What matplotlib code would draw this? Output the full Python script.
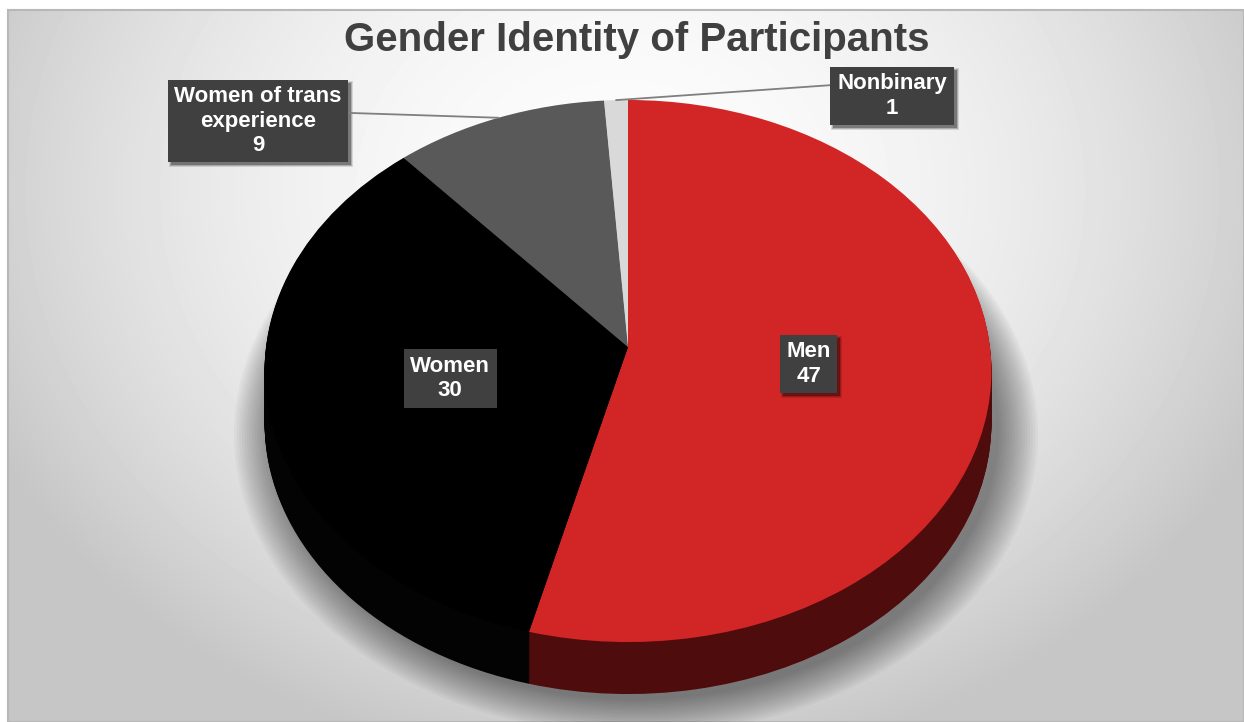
import numpy as np
import matplotlib
matplotlib.use('Agg')
import matplotlib.pyplot as plt
from matplotlib.transforms import Transform, Affine2D, IdentityTransform
from matplotlib.patches import Circle, Rectangle

# participant counts by gender identity
categories = ['Men', 'Women', 'Women of trans\nexperience', 'Nonbinary']
counts = [47, 30, 9, 1]

top_colors = ['#d22626', '#000000', '#595959', '#d9d9d9']
side_colors = ['#4e0c0c', '#030303', '#3a3a3a', '#a8a8a8']

W, H = 1244, 722

# screen geometry of the tilted pie (pixels)
CX, CY = 628, 347
RX, RY = 362, 268.9
PERSP = 0.0886
DEPTH = 52


class Tilt(Transform):
    """Perspective view of the unit disk, output in pixel coordinates."""
    input_dims = 2
    output_dims = 2
    is_separable = False

    def transform_non_affine(self, values):
        values = np.asarray(values, dtype=float)
        u, v = values[:, 0], values[:, 1]
        w = 1 + PERSP * v
        return np.column_stack([CX + RX * u / w, CY - RY * v / w])


plt.rcParams['font.family'] = ['Liberation Sans', 'DejaVu Sans']

fig = plt.figure(figsize=(W / 100, H / 100), dpi=100)
ax = fig.add_axes([0, 0, 1, 1])
tilt = Tilt()

# radial background
yy, xx = np.mgrid[10:H, 8:W]
r2 = ((xx - 622) / 720.0) ** 2 + ((yy - 190) / 600.0) ** 2
grad = np.clip(252 - 58 * r2, 198, 252)
ax.imshow(grad, cmap='gray', vmin=0, vmax=255, extent=(8, W, H, 10),
          interpolation='bilinear', zorder=0)
ax.add_patch(Rectangle((8, 10), W - 8, H - 10, fill=False, ec='#b8b8b8',
                       lw=1.5, zorder=0.5))

# soft drop shadow under the pie
for i in range(16):
    sh = Circle((0, 0), 1.0 + 0.007 * i, fc='black', ec='none', alpha=0.03,
                transform=tilt + Affine2D().translate(8, DEPTH + 6) + ax.transData,
                zorder=1)
    ax.add_patch(sh)

# side of the pie: stacked copies pushed down
for dy in range(DEPTH, 0, -1):
    wedges, _ = ax.pie(counts, colors=side_colors, startangle=90,
                       counterclock=False, wedgeprops=dict(linewidth=0))
    for w in wedges:
        w.set_transform(tilt + Affine2D().translate(0, dy) + ax.transData)
        w.set_zorder(2)

# top face
wedges, _ = ax.pie(counts, colors=top_colors, startangle=90,
                   counterclock=False, wedgeprops=dict(linewidth=0))
for w in wedges:
    w.set_transform(tilt + ax.transData)
    w.set_zorder(3)

label_style = dict(ha='center', va='center', color='white', fontsize=16,
                   fontweight='bold', linespacing=1.2, zorder=6)
labels = []


def put_label(x, y, text, rim=None, relpos=(0.5, 0.5)):
    box = dict(boxstyle='square,pad=0.3', fc='#404040', ec='none')
    if rim is None:
        t = ax.text(x, y, text, bbox=box, **label_style)
    else:
        t = ax.annotate(text, xy=rim, xytext=(x, y), bbox=box,
                        arrowprops=dict(arrowstyle='-', color='#7f7f7f',
                                        lw=1.3, shrinkA=0, shrinkB=0,
                                        relpos=relpos),
                        **label_style)
    labels.append(t)


outer = {2: ((258, 121), (1, 0.62)), 3: ((892, 96), (0, 0.75))}
for i, w in enumerate(wedges):
    mid = np.deg2rad((w.theta1 + w.theta2) / 2)
    text = f'{categories[i]}\n{counts[i]}'
    if i in outer:
        (x, y), rp = outer[i]
        rim = tilt.transform([[np.cos(mid), np.sin(mid)]])[0]
        put_label(x, y, text, rim=tuple(rim), relpos=rp)
    else:
        x, y = tilt.transform([[0.5 * np.cos(mid), 0.5 * np.sin(mid)]])[0]
        put_label(x, y, text)

ax.text(637, 40, 'Gender Identity of Participants', ha='center', va='center',
        fontsize=29, fontweight='bold', color='#404040', zorder=6)

ax.set_aspect('auto')
ax.set_xlim(0, W)
ax.set_ylim(H, 0)
ax.axis('off')

# drop shadows behind the label boxes
fig.canvas.draw()
for t in labels:
    bb = t.get_bbox_patch().get_window_extent()
    for k, a in enumerate([0.12, 0.18, 0.3]):
        grow = 2 - k
        ax.add_patch(Rectangle((bb.x0 + 3 - grow, bb.y0 - 3 - grow),
                               bb.width + 2 * grow, bb.height + 2 * grow,
                               fc='black', ec='none', alpha=a, zorder=5,
                               transform=IdentityTransform()))

fig.savefig('out.png', dpi=100, facecolor='white')
